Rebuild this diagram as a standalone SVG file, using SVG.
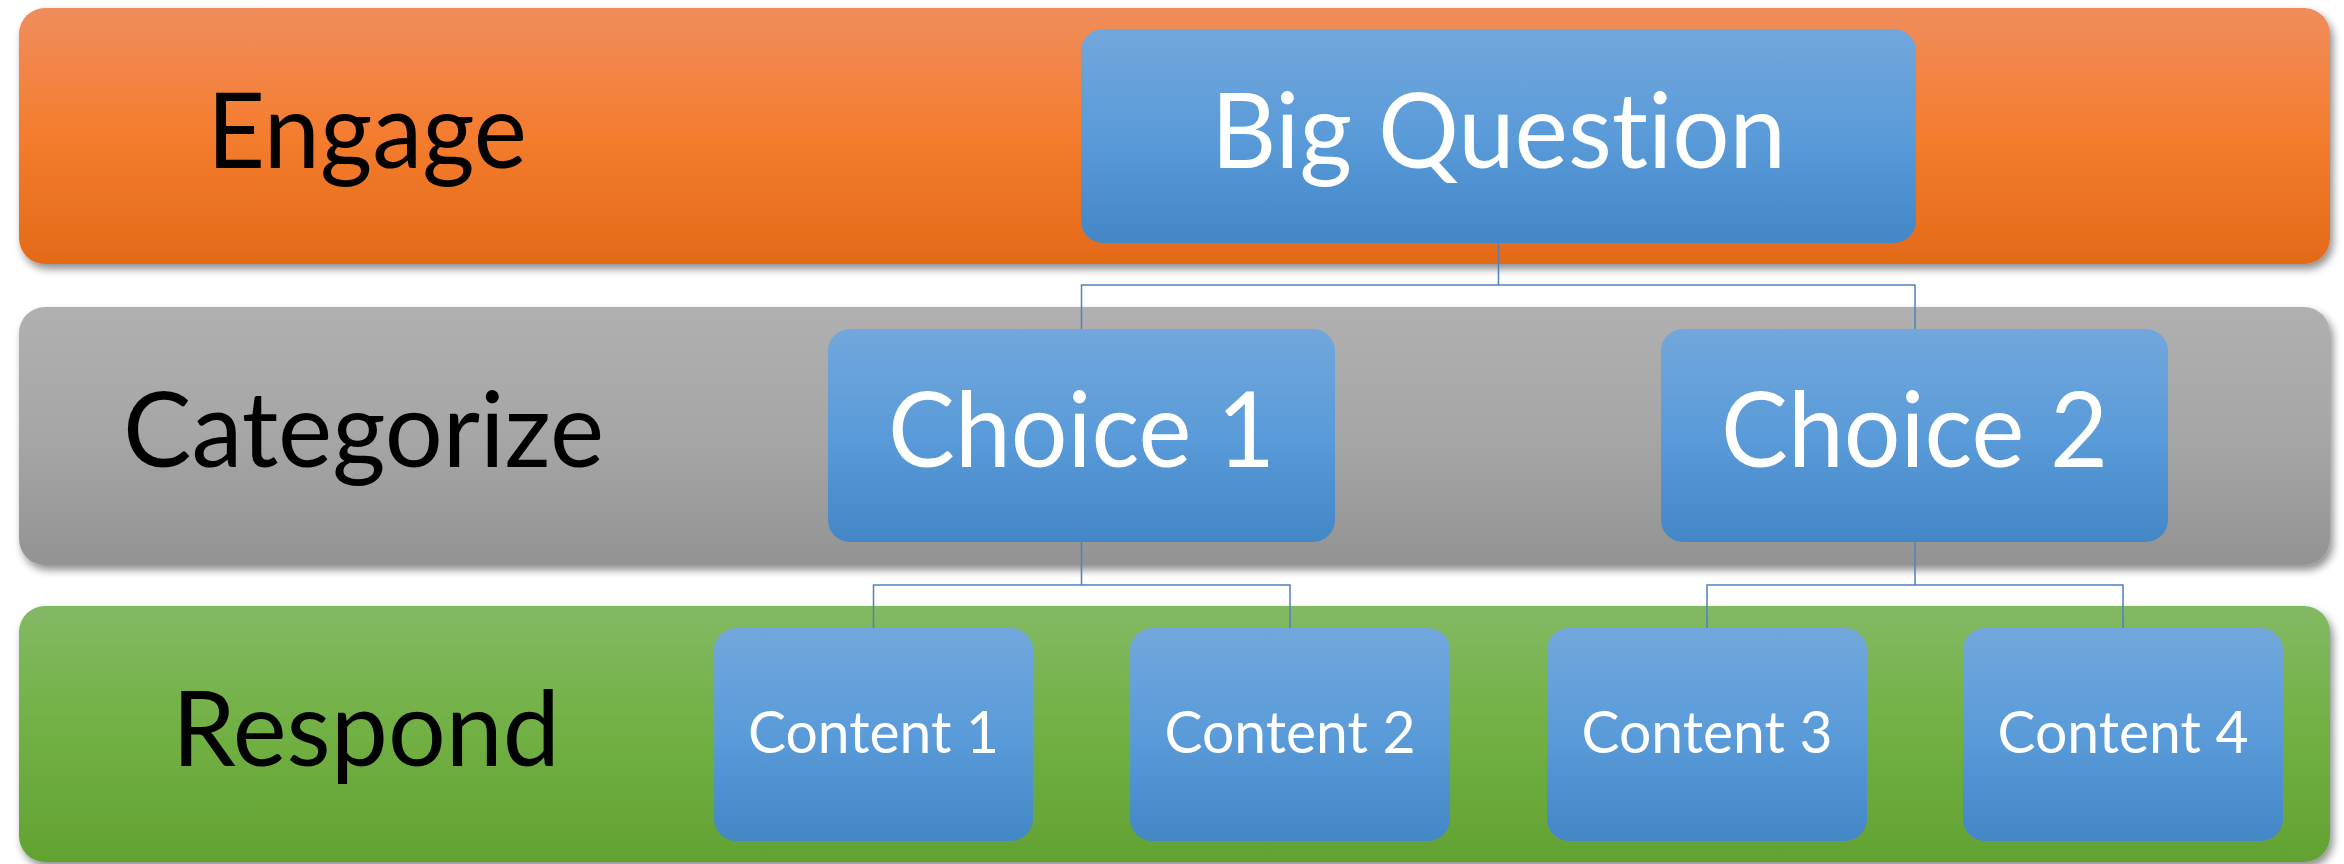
<svg xmlns="http://www.w3.org/2000/svg" width="2344" height="864" viewBox="0 0 2344 864">
<defs>
<linearGradient id="gOrange" x1="0" y1="0" x2="0" y2="1">
<stop offset="0" stop-color="#F08D5C"/><stop offset="0.5" stop-color="#F47C2E"/><stop offset="1" stop-color="#E36A18"/>
</linearGradient>
<linearGradient id="gGray" x1="0" y1="0" x2="0" y2="1">
<stop offset="0" stop-color="#B0B0B0"/><stop offset="0.5" stop-color="#A6A6A6"/><stop offset="1" stop-color="#939393"/>
</linearGradient>
<linearGradient id="gGreen" x1="0" y1="0" x2="0" y2="1">
<stop offset="0" stop-color="#83B964"/><stop offset="0.5" stop-color="#71B043"/><stop offset="1" stop-color="#62A232"/>
</linearGradient>
<linearGradient id="gBlue" x1="0" y1="0" x2="0" y2="1">
<stop offset="0" stop-color="#72A7DB"/><stop offset="0.5" stop-color="#5A9BD9"/><stop offset="1" stop-color="#4387C7"/>
</linearGradient>
<filter id="shadow" x="-5%" y="-10%" width="110%" height="130%">
<feGaussianBlur in="SourceAlpha" stdDeviation="4"/>
<feOffset dx="3" dy="5" result="b"/>
<feComponentTransfer><feFuncA type="linear" slope="0.45"/></feComponentTransfer>
<feMerge><feMergeNode/><feMergeNode in="SourceGraphic"/></feMerge>
</filter>
</defs>
<style>
.band{filter:url(#shadow)}
.box{fill:url(#gBlue)}
text{font-variant-ligatures:none;font-feature-settings:"liga" 0,"clig" 0,"dlig" 0;font-family:Lato,"Liberation Sans",sans-serif}
.lbl{fill:#000;font-size:104px}
.big{fill:#fff;font-size:104px;text-anchor:middle}
.sm{fill:#fff;font-size:58px;text-anchor:middle}
.conn{fill:none;stroke:#4F81BD;stroke-width:1.5}
</style>
<rect width="2344" height="864" fill="#fff"/>
<g id="band-engage">
<rect class="band" x="19" y="8" width="2311" height="256" rx="26" fill="url(#gOrange)"/>
<text class="lbl" x="207" y="168" textLength="320" lengthAdjust="spacingAndGlyphs">Engage</text>
</g>
<g id="band-categorize">
<rect class="band" x="19" y="307" width="2311" height="258" rx="26" fill="url(#gGray)"/>
<text class="lbl" x="123" y="467" textLength="481" lengthAdjust="spacingAndGlyphs">Categorize</text>
</g>
<g id="band-respond">
<rect class="band" x="19" y="606" width="2311" height="256" rx="26" fill="url(#gGreen)"/>
<text class="lbl" x="172" y="766" textLength="388" lengthAdjust="spacingAndGlyphs">Respond</text>
</g>
<g id="connectors">
<path class="conn" d="M1498.5 243 V285 M1081.5 329 V285 H1915 V329"/>
<path class="conn" d="M1081.5 542 V585 M873.5 628 V585 H1290 V628"/>
<path class="conn" d="M1915 542 V585 M1707 628 V585 H2123 V628"/>
</g>
<g id="big-question">
<rect class="box" x="1081" y="29" width="835" height="214" rx="22"/>
<text class="big" x="1498.5" y="168" textLength="575" lengthAdjust="spacingAndGlyphs">Big Question</text>
</g>
<g id="choice-1">
<rect class="box" x="828" y="329" width="507" height="213" rx="22"/>
<text class="big" x="1081.5" y="467" textLength="387" lengthAdjust="spacingAndGlyphs">Choice 1</text>
</g>
<g id="choice-2">
<rect class="box" x="1661" y="329" width="507" height="213" rx="22"/>
<text class="big" x="1914.5" y="467" textLength="387" lengthAdjust="spacingAndGlyphs">Choice 2</text>
</g>
<g id="content-1">
<rect class="box" x="714" y="628" width="319" height="213" rx="22"/>
<text class="sm" x="873.5" y="753" textLength="251" lengthAdjust="spacingAndGlyphs">Content 1</text>
</g>
<g id="content-2">
<rect class="box" x="1130" y="628" width="320" height="213" rx="22"/>
<text class="sm" x="1290" y="753" textLength="251" lengthAdjust="spacingAndGlyphs">Content 2</text>
</g>
<g id="content-3">
<rect class="box" x="1547" y="628" width="320" height="213" rx="22"/>
<text class="sm" x="1707" y="753" textLength="251" lengthAdjust="spacingAndGlyphs">Content 3</text>
</g>
<g id="content-4">
<rect class="box" x="1963" y="628" width="320" height="213" rx="22"/>
<text class="sm" x="2123" y="753" textLength="251" lengthAdjust="spacingAndGlyphs">Content 4</text>
</g>
</svg>
